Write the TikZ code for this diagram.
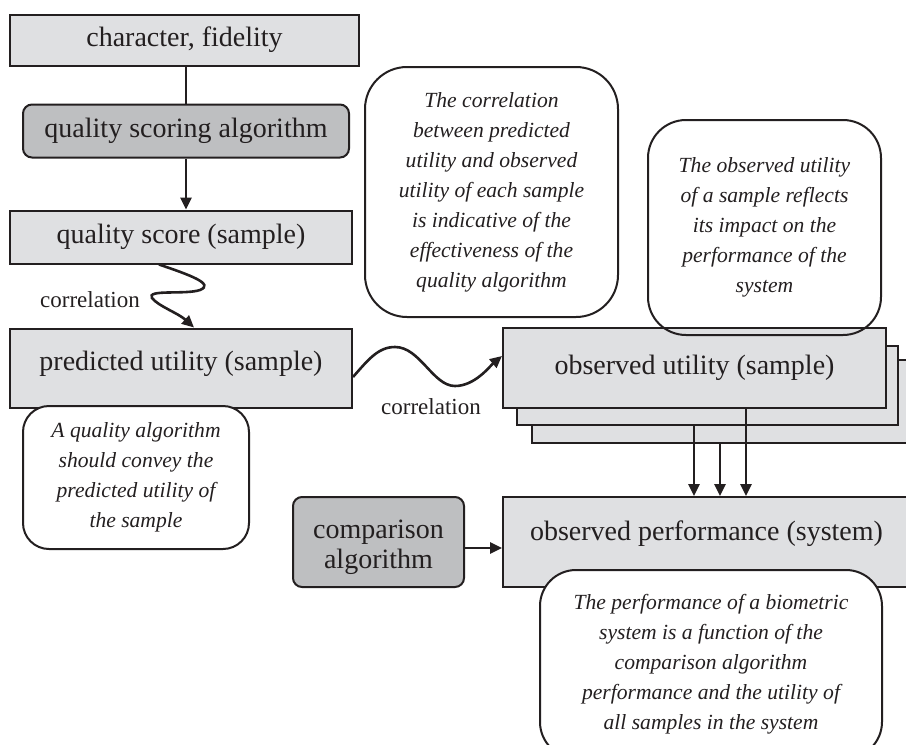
\documentclass[tikz,border=0pt]{standalone}
\usepackage{fontspec}
\setmainfont{Liberation Serif}
\usepackage{xcolor}
\usepackage{tikz}
\usetikzlibrary{positioning}
\usetikzlibrary{arrows.meta}

\definecolor{ink}{HTML}{231F20}
\definecolor{boxgray}{HTML}{DFE0E2}
\definecolor{alggray}{HTML}{BEBFC1}

\tikzset{
  box/.style={draw=ink, fill=boxgray, line width=2pt, inner sep=0pt, align=center,
    text=ink, font=\fontsize{28}{30}\selectfont},
  algbox/.style={box, fill=alggray, rounded corners=9pt},
  note/.style={draw=ink, fill=white, line width=2pt, rounded corners=32pt, inner sep=0pt,
    align=center, text=ink, font=\fontsize{21.6}{30}\selectfont\itshape},
  corr/.style={text=ink, font=\fontsize{23}{28}\selectfont},
  link/.style={draw=ink, line width=2.6pt},
  arr/.style={link, -{Triangle[length=12pt,width=11pt]}},
}

\begin{document}
\begin{tikzpicture}[x=1pt, y=-1pt]
\useasboundingbox (0,0) rectangle (906,745);
\clip (0,0) rectangle (906,745);
% left column
\node[box, minimum width=349pt, minimum height=51pt] (charfid) at (184.5,40) {character, fidelity};
\node[algbox, minimum width=326pt, minimum height=53pt] (scoring) [below=37pt of charfid, xshift=1.5pt] {quality scoring algorithm};
\node[box, minimum width=342pt, minimum height=53pt] (qscore) [below=51pt of scoring, xshift=-5pt] {quality score (sample)};
\node[box, minimum width=342pt, minimum height=79pt, text depth=14pt] (predicted) [below=63pt of qscore] {predicted utility (sample)};
% stacked samples
\node[box, minimum width=393pt, minimum height=83pt] (obsutil3) at (728.5,401.5) {};
\node[box, minimum width=381pt, minimum height=79pt] (obsutil2) at (707.5,385.5) {};
\node[box, minimum width=383pt, minimum height=80pt] (obsutil) at (694.5,368) {observed utility (sample)};
% system
\node[box, minimum width=407pt, minimum height=90pt, text depth=22pt] (obsperf) at (706.5,542) {observed performance (system)};
\node[algbox, minimum width=171pt, minimum height=90pt, text height=59pt] (comparison) at (378.5,542) {comparison\\algorithm};
% notes
\node[note, minimum width=226pt, minimum height=143pt, rounded corners=26pt] (notepred) at (136,477.5) {A quality algorithm\\should convey the\\predicted utility of\\the sample};
\node[note, minimum width=253pt, minimum height=250pt, rounded corners=42pt] (notecorr) at (491.5,192) {The correlation\\between predicted\\utility and observed\\utility of each sample\\is indicative of the\\effectiveness of the\\quality algorithm};
\node[note, fill=none, minimum width=233pt, minimum height=215pt, rounded corners=38pt] (noteobs) at (764.5,227.5) {The observed utility\\of a sample reflects\\its impact on the\\performance of the\\system};
\node[note, minimum width=342pt, minimum height=188pt, rounded corners=36pt] (notesys) at (711,664) {The performance of a biometric\\system is a function of the\\comparison algorithm\\performance and the utility of\\all samples in the system};
% labels
\node[corr] (corrA) at (90,300) {correlation};
\node[corr] (corrB) at (431,407) {correlation};
% arrows
\draw[link] (scoring.north |- charfid.south) -- (scoring.north);
\draw[arr] (scoring.south) -- (scoring.south |- qscore.north);
\draw[arr] ([xshift=150pt]qscore.south west) .. controls (190,275) and (215,284) .. (200,290)
  .. controls (185,295) and (146,289) .. (152,298)
  .. controls (158,306) and (178,313) .. ([xshift=185pt]predicted.north west);
\draw[arr] ([yshift=-9pt]predicted.east) .. controls (368,360) and (378,347) .. (395,347)
  .. controls (420,347) and (433,386) .. (455,386)
  .. controls (475,386) and (490,366) .. ([yshift=12pt]obsutil.west);
\draw[arr] ([xshift=51.5pt]obsutil.south) -- ([xshift=51.5pt]obsutil.south |- obsperf.north);
\draw[arr] ([xshift=-13.5pt]obsutil2.south) -- ([xshift=-13.5pt]obsutil2.south |- obsperf.north);
\draw[arr] ([xshift=-8.5pt]obsutil3.south) -- ([xshift=-8.5pt]obsutil3.south |- obsperf.north);
\draw[arr] ([yshift=-6pt]comparison.east) -- ([yshift=-6pt]comparison.east -| obsperf.west);
\end{tikzpicture}
\end{document}
